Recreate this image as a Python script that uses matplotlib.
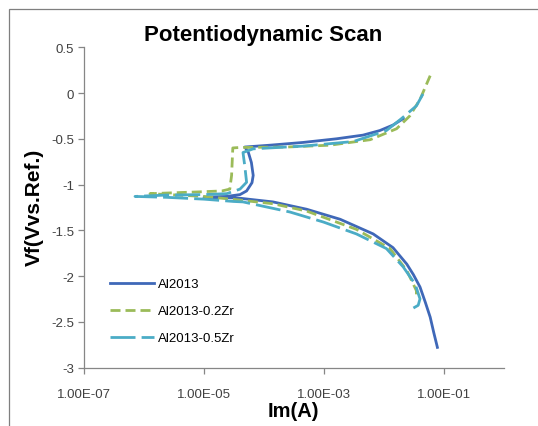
import matplotlib
matplotlib.use("Agg")
import matplotlib.pyplot as plt
from matplotlib.patches import Rectangle
import numpy as np

# log10(Im) and Vf, one sweep per alloy (cathodic end -> Ecorr -> anodic end)
al2013_logi = [-1.11, -1.17, -1.23, -1.31, -1.40, -1.51, -1.62, -1.85, -2.18, -2.73, -3.29, -3.85, -4.40, -4.70, -5.00,
               -4.62, -4.40, -4.29, -4.20, -4.18, -4.21, -4.26, -4.32, -3.90, -3.35, -2.79, -2.35, -2.07, -1.85, -1.68]
al2013_v = [-2.78, -2.62, -2.45, -2.29, -2.12, -1.985, -1.87, -1.69, -1.54, -1.38, -1.27, -1.19, -1.15, -1.14, -1.14,
            -1.13, -1.11, -1.07, -0.98, -0.90, -0.76, -0.65, -0.59, -0.57, -0.54, -0.50, -0.46, -0.41, -0.35, -0.28]

zr02_logi = [-1.46, -1.46, -1.62, -1.90, -2.46, -3.29, -3.85, -4.40, -5.00, -5.90,
             -5.50, -5.07, -4.70, -4.57, -4.54, -4.53, -4.52, -4.40, -3.62, -2.90, -2.23, -1.79, -1.57, -1.40, -1.23]
zr02_v = [-2.20, -2.16, -1.94, -1.70, -1.49, -1.29, -1.21, -1.17, -1.13, -1.10,
          -1.09, -1.08, -1.07, -1.05, -0.90, -0.75, -0.60, -0.595, -0.59, -0.57, -0.51, -0.39, -0.25, -0.07, 0.19]

zr05_logi = [-1.51, -1.43, -1.40, -1.48, -1.68, -1.96, -2.46, -3.01, -3.57, -4.35, -4.51, -5.00, -5.62, -6.15,
             -5.62, -5.00, -4.62, -4.40, -4.29, -4.32, -4.35, -4.18, -3.35, -2.51, -1.96, -1.71, -1.46, -1.35]
zr05_v = [-2.35, -2.32, -2.25, -2.09, -1.90, -1.70, -1.54, -1.41, -1.30, -1.19, -1.185, -1.16, -1.14, -1.13,
          -1.115, -1.11, -1.10, -1.05, -0.975, -0.80, -0.65, -0.61, -0.58, -0.53, -0.41, -0.28, -0.14, -0.01]

x_ticks = [1e-7, 1e-5, 1e-3, 1e-1]
x_tick_labels = ["1.00E-07", "1.00E-05", "1.00E-03", "1.00E-01"]
y_ticks = [0.5, 0, -0.5, -1, -1.5, -2, -2.5, -3]
y_tick_labels = ["0.5", "0", "-0.5", "-1", "-1.5", "-2", "-2.5", "-3"]

plt.rcParams["font.family"] = ["Liberation Sans", "DejaVu Sans"]

fig = plt.figure(figsize=(5.38, 4.27), dpi=100)
fig.patches.append(Rectangle((8.5 / 538, -0.1), 1.2, 1.1 - 10 / 427, transform=fig.transFigure,
                             fill=False, edgecolor="#7f7f7f", linewidth=0.9))
ax = fig.add_axes([84 / 538, 1 - 368.5 / 427, (504 - 84) / 538, (368.5 - 48.3) / 427])

lw = 2.0
ax.plot(10 ** np.array(al2013_logi), al2013_v, color="#3F68B8", lw=lw, label="Al2013")
ax.plot(10 ** np.array(zr02_logi), zr02_v, color="#9BBB59", lw=lw, dashes=(3.6, 1.8), label="Al2013-0.2Zr")
ax.plot(10 ** np.array(zr05_logi), zr05_v, color="#4BACC6", lw=lw, dashes=(9, 2.2), label="Al2013-0.5Zr")

ax.set_xscale("log")
ax.set_xlim(1e-7, 1)
ax.set_ylim(-3, 0.5)
ax.set_xticks(x_ticks)
ax.set_xticklabels(x_tick_labels)
ax.minorticks_off()
ax.set_yticks(y_ticks)
ax.set_yticklabels(y_tick_labels)
for s in ["top", "right"]:
    ax.spines[s].set_visible(False)
for s in ["left", "bottom"]:
    ax.spines[s].set_color("#868686")
    ax.spines[s].set_linewidth(0.9)
ax.tick_params(axis="both", direction="out", length=4, width=0.9, color="#868686",
               labelsize=9.5, labelcolor="#404040")
ax.tick_params(axis="x", pad=11)
ax.tick_params(axis="y", pad=3)

fig.text(263 / 538, 1 - 35 / 427, "Potentiodynamic Scan", ha="center", va="center",
         fontsize=16, fontweight="bold")
fig.text(34 / 538, 1 - 207 / 427, "Vf(Vvs.Ref.)", ha="center", va="center", rotation=90,
         fontsize=15, fontweight="bold")
fig.text(293 / 538, 1 - 412 / 427, "Im(A)", ha="center", va="center", fontsize=14.5, fontweight="bold")

ax.legend(loc="upper left", bbox_to_anchor=(110 / 538, 1 - 279 / 427), bbox_transform=fig.transFigure,
          frameon=False, fontsize=9.5, handlelength=3.3, handletextpad=0.35, labelspacing=1.12,
          borderaxespad=0, borderpad=0)

fig.savefig("out.png", dpi=100)
